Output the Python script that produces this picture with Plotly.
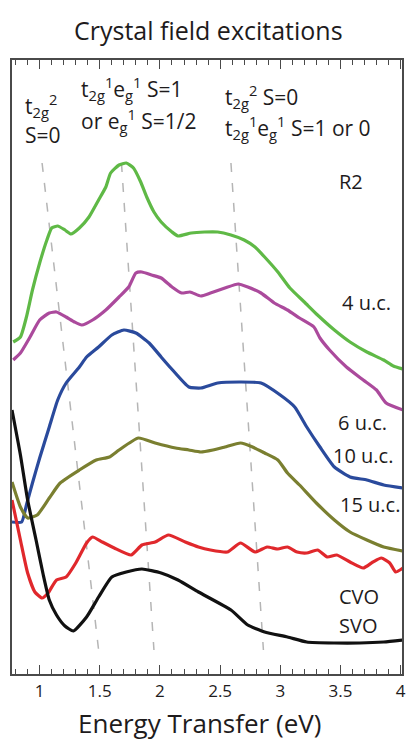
import plotly.graph_objects as go

# ---- data ----
r2_x = [0.78, 0.84, 0.89, 0.94, 1.00, 1.06, 1.10, 1.15, 1.21, 1.26, 1.33, 1.41, 1.49, 1.55, 1.59, 1.66, 1.72, 1.78, 1.84, 1.89, 1.95, 2.01, 2.10, 2.15, 2.26, 2.37, 2.48, 2.59, 2.70, 2.79, 2.87, 2.98, 3.08, 3.20, 3.31, 3.45, 3.58, 3.72, 3.86, 3.94, 4.02]
r2_y = [3.32, 3.37, 3.57, 3.84, 4.11, 4.34, 4.46, 4.48, 4.44, 4.40, 4.46, 4.57, 4.74, 4.87, 5.01, 5.09, 5.11, 5.06, 4.92, 4.77, 4.62, 4.52, 4.42, 4.38, 4.41, 4.42, 4.42, 4.39, 4.34, 4.27, 4.17, 4.02, 3.86, 3.72, 3.59, 3.44, 3.32, 3.22, 3.14, 3.08, 3.05]

uc4_x = [0.78, 0.84, 0.92, 1.00, 1.08, 1.14, 1.22, 1.29, 1.35, 1.44, 1.55, 1.66, 1.74, 1.80, 1.85, 1.93, 2.01, 2.10, 2.18, 2.25, 2.34, 2.42, 2.54, 2.65, 2.73, 2.84, 2.95, 3.06, 3.16, 3.28, 3.33, 3.41, 3.55, 3.69, 3.80, 3.88, 4.02]
uc4_y = [3.14, 3.21, 3.37, 3.54, 3.61, 3.62, 3.57, 3.52, 3.49, 3.54, 3.64, 3.77, 3.87, 4.01, 4.02, 3.99, 3.96, 3.87, 3.81, 3.82, 3.78, 3.81, 3.86, 3.90, 3.87, 3.81, 3.71, 3.64, 3.56, 3.47, 3.36, 3.24, 3.07, 2.94, 2.84, 2.71, 2.64]

uc6_x = [0.77, 0.85, 0.89, 0.94, 1.00, 1.08, 1.15, 1.22, 1.33, 1.39, 1.49, 1.60, 1.70, 1.80, 1.91, 2.01, 2.09, 2.24, 2.34, 2.48, 2.67, 2.84, 3.00, 3.12, 3.22, 3.33, 3.45, 3.58, 3.72, 3.86, 4.02]
uc6_y = [1.52, 1.52, 1.69, 1.91, 2.16, 2.47, 2.74, 2.91, 3.07, 3.17, 3.27, 3.39, 3.44, 3.41, 3.31, 3.17, 3.06, 2.87, 2.86, 2.91, 2.92, 2.91, 2.79, 2.67, 2.47, 2.27, 2.07, 1.97, 1.94, 1.89, 1.86]

uc10_x = [0.77, 0.84, 0.90, 0.98, 1.08, 1.17, 1.33, 1.47, 1.58, 1.66, 1.82, 1.96, 2.13, 2.24, 2.34, 2.44, 2.54, 2.67, 2.77, 2.87, 2.98, 3.06, 3.16, 3.30, 3.45, 3.58, 3.72, 3.86, 4.02]
uc10_y = [1.92, 1.67, 1.56, 1.59, 1.76, 1.91, 2.04, 2.14, 2.17, 2.24, 2.36, 2.31, 2.26, 2.24, 2.22, 2.24, 2.27, 2.31, 2.27, 2.21, 2.14, 2.01, 1.89, 1.71, 1.54, 1.42, 1.34, 1.27, 1.23]

uc15_x = [0.77, 0.84, 0.90, 0.96, 1.02, 1.07, 1.14, 1.22, 1.30, 1.39, 1.44, 1.52, 1.62, 1.76, 1.85, 1.96, 2.07, 2.21, 2.32, 2.42, 2.56, 2.67, 2.79, 2.89, 2.98, 3.06, 3.14, 3.22, 3.31, 3.39, 3.47, 3.58, 3.69, 3.77, 3.84, 3.91, 3.96, 4.02]
uc15_y = [1.74, 1.34, 1.01, 0.82, 0.76, 0.81, 0.94, 0.97, 1.11, 1.31, 1.37, 1.32, 1.26, 1.19, 1.29, 1.32, 1.39, 1.32, 1.27, 1.24, 1.22, 1.31, 1.22, 1.27, 1.25, 1.27, 1.22, 1.21, 1.24, 1.17, 1.19, 1.12, 1.06, 1.12, 1.16, 1.11, 1.02, 1.06]

svo_x = [0.77, 0.84, 0.90, 0.97, 1.03, 1.08, 1.14, 1.21, 1.28, 1.39, 1.49, 1.60, 1.72, 1.85, 2.01, 2.15, 2.32, 2.59, 2.73, 2.87, 3.06, 3.22, 3.45, 3.66, 3.86, 4.02]
svo_y = [2.64, 2.19, 1.74, 1.34, 0.99, 0.74, 0.59, 0.48, 0.43, 0.57, 0.77, 0.97, 1.02, 1.05, 1.01, 0.94, 0.82, 0.64, 0.49, 0.42, 0.37, 0.32, 0.31, 0.31, 0.32, 0.34]

guide_x = [[1.02, 1.49], [1.68, 1.95], [2.59, 2.86]]
guide_y = [5.11, 0.24]

tick_vals = [1, 1.5, 2, 2.5, 3, 3.5, 4]
tick_text = ["1", "1.5", "2", "2.5", "3", "3.5", "4"]

series = [
    ("R2", r2_x, r2_y, "#5fb946"),
    ("4 u.c.", uc4_x, uc4_y, "#ab4a9c"),
    ("6 u.c.", uc6_x, uc6_y, "#2a4a9c"),
    ("10 u.c.", uc10_x, uc10_y, "#7a7f30"),
    ("15 u.c.", uc15_x, uc15_y, "#e0282c"),
    ("SVO", svo_x, svo_y, "#111111"),
]

FONT = "Open Sans"
TXT = "#1e1b1c"

fig = go.Figure()

for gx in guide_x:
    fig.add_trace(go.Scatter(x=gx, y=guide_y, mode="lines",
                             line=dict(color="#b5b5b5", width=1.5, dash="9px,11px"),
                             hoverinfo="skip", showlegend=False))

for name, xs, ys, col in series:
    fig.add_trace(go.Scatter(x=xs, y=ys, mode="lines", name=name,
                             line=dict(color=col, width=3.2, shape="spline", smoothing=0.5),
                             showlegend=False))

ann = []
def add(text, x, y, size=20, xanchor="left", xref="x", yref="y"):
    ann.append(dict(text=text, x=x, y=y, xref=xref, yref=yref, showarrow=False,
                    xanchor=xanchor, yanchor="middle",
                    font=dict(family=FONT, size=size, color=TXT)))

# curve labels
add("R2", 3.47, 4.93, 20)
add("4 u.c.", 3.50, 3.72, 20)
add("6 u.c.", 3.46, 2.52, 20)
add("10 u.c.", 3.42, 2.19, 20)
add("15 u.c.", 3.48, 1.70, 20)
add("CVO", 3.47, 0.78, 20)
add("SVO", 3.47, 0.49, 20)

# state annotations
add("t<sub>2g</sub><sup>2</sup>", 0.86, 5.69, 21)
add("S=0", 0.86, 5.39, 21)
add("t<sub>2g</sub><sup>1</sup>e<sub>g</sub><sup>1</sup> S=1", 1.33, 5.86, 21)
add("or e<sub>g</sub><sup>1</sup> S=1/2", 1.33, 5.54, 21)
add("t<sub>2g</sub><sup>2</sup> S=0", 2.52, 5.78, 21)
add("t<sub>2g</sub><sup>1</sup>e<sub>g</sub><sup>1</sup> S=1 or 0", 2.52, 5.47, 21)

# title and axis title
add("Crystal field excitations", 0.503, 1.049, 25, "center", "paper", "paper")
add("Energy Transfer (eV)", 0.48, -0.079, 26, "center", "paper", "paper")

fig.update_layout(
    width=410, height=740, autosize=False,
    margin=dict(l=12, r=4, t=60, b=66),
    paper_bgcolor="white", plot_bgcolor="white",
    font=dict(family=FONT, color=TXT),
    annotations=ann,
    xaxis=dict(range=[0.77, 4.012], showgrid=False, zeroline=False,
               showline=True, linecolor="#4a4a4a", linewidth=1.5, mirror="allticks",
               ticks="inside", ticklen=9, tickwidth=1.3, tickcolor="#4a4a4a",
               tickvals=tick_vals, ticktext=tick_text, ticklabelstandoff=1,
               tickfont=dict(family=FONT, size=17, color=TXT),
               minor=dict(ticks="inside", dtick=0.1, ticklen=5, tickwidth=1.2,
                          tickcolor="#4a4a4a", showgrid=False)),
    yaxis=dict(range=[0, 6.14], showgrid=False, zeroline=False,
               showline=True, linecolor="#4a4a4a", linewidth=1.5, mirror=True,
               ticks="", showticklabels=False),
)

fig.write_html("out.html")
